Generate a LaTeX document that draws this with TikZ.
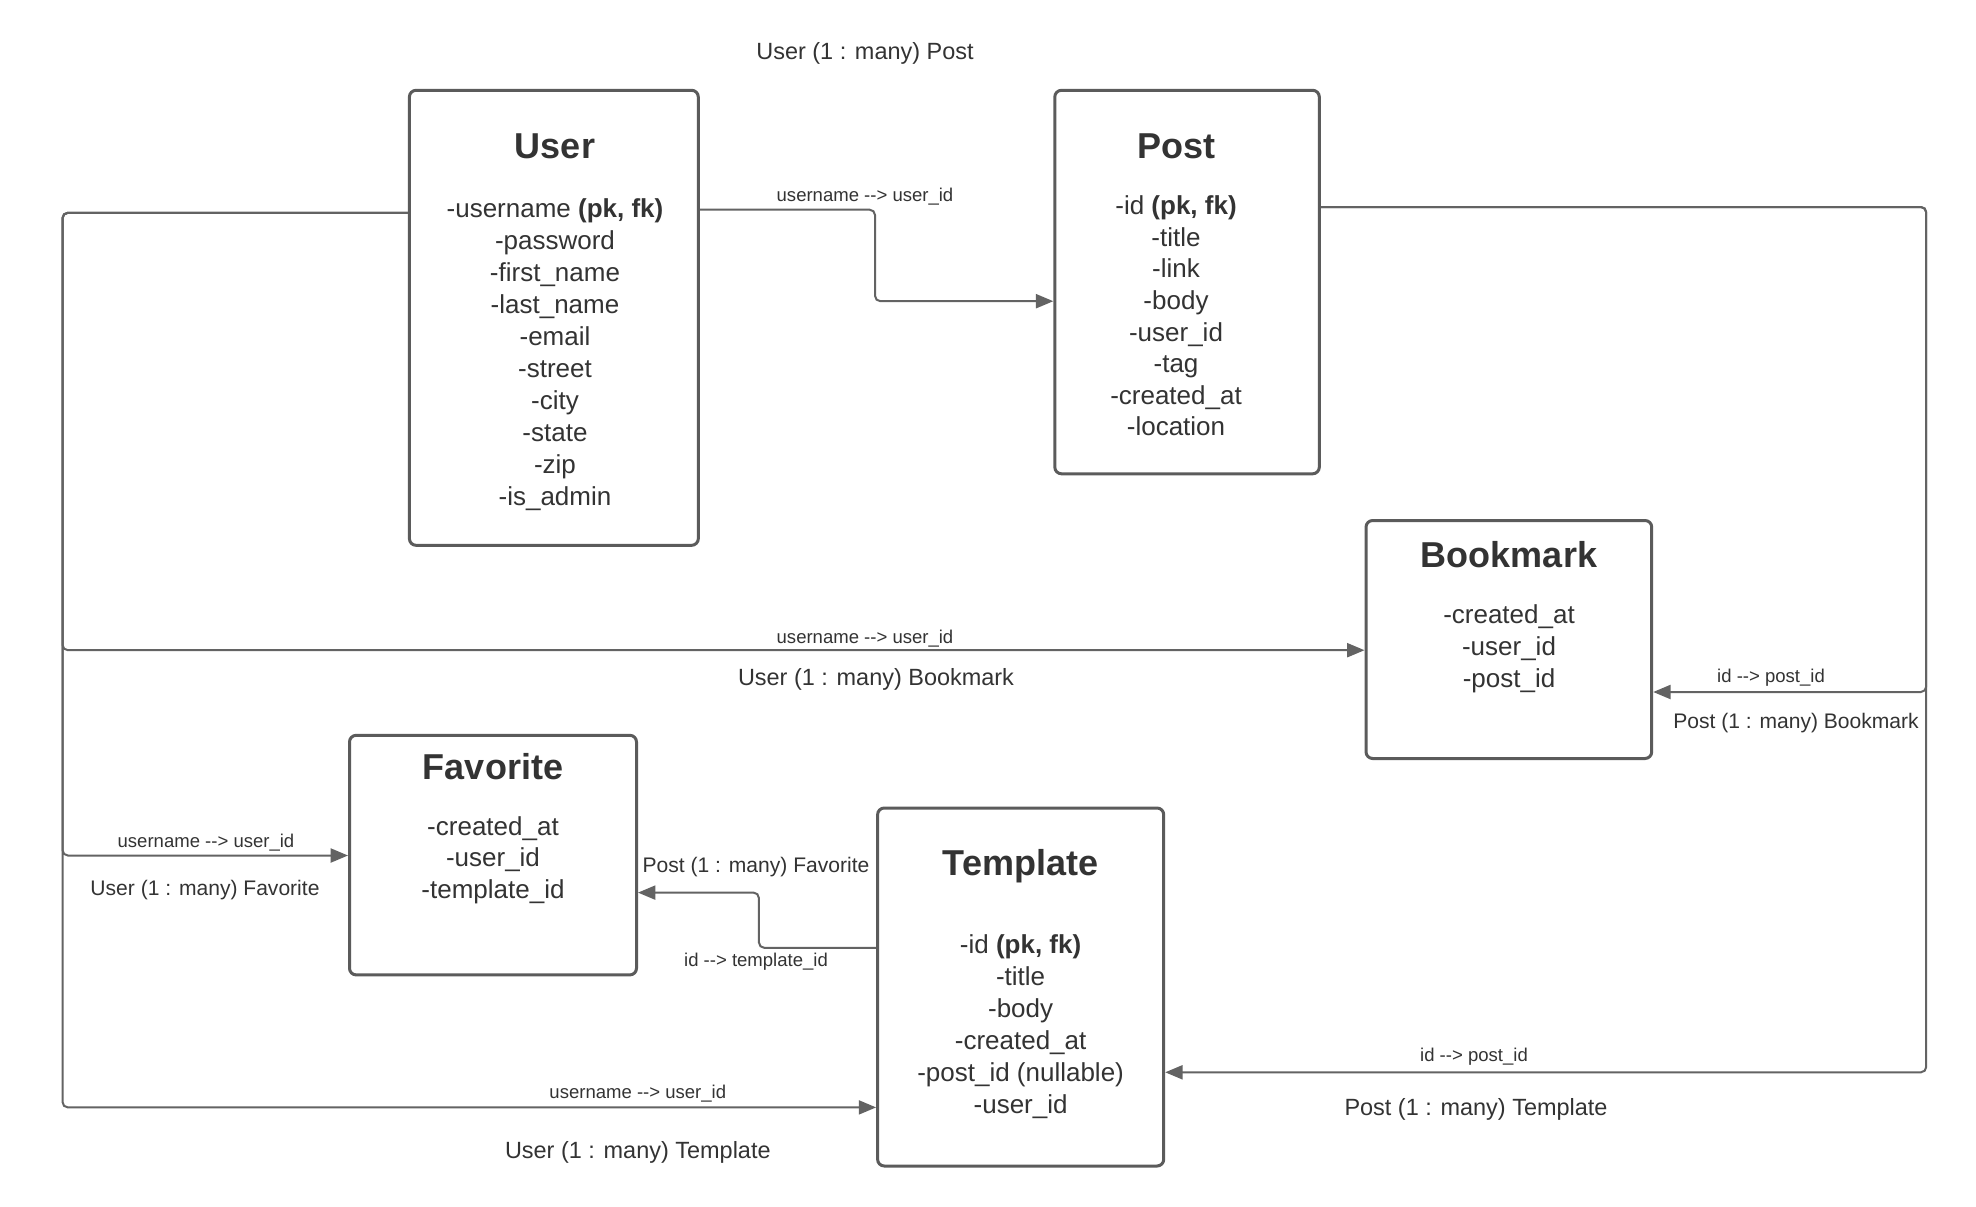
\documentclass[tikz,border=0pt]{standalone}
\usepackage{fontspec}
\setmainfont{Liberation Sans}
\usetikzlibrary{arrows.meta,fit}
\definecolor{boxc}{HTML}{5B5B5B}
\definecolor{linec}{HTML}{636363}
\definecolor{txtc}{HTML}{333333}
\newcommand\arr{-\kern0pt-\kern0pt>}
\newcommand\attrlist[5]{%
  \foreach \attrtext [count=\i] in {#5} {\node[attr] (#1-\i) at (#2,{#3+(\i-1)*#4}) {\attrtext};}}
\begin{document}
\begin{tikzpicture}[x=0.75pt,y=-0.75pt,
  entity/.style={draw=boxc,line width=2.25pt,rounded corners=5pt,inner sep=0pt},
  ttl/.style={anchor=base,text=txtc,font=\fontsize{27}{32}\selectfont\bfseries,inner sep=0pt},
  attr/.style={anchor=base,text=txtc,font=\fontsize{19.5}{24}\selectfont,inner sep=0pt},
  rel/.style={anchor=base,text=txtc,font=\fontsize{17.6}{21}\selectfont,inner sep=0pt},
  relsm/.style={anchor=base,text=txtc,font=\fontsize{15.8}{19}\selectfont,inner sep=0pt},
  fkl/.style={anchor=base,text=txtc,font=\fontsize{13.9}{17}\selectfont,inner sep=0pt},
  conn/.style={draw=linec,line width=1.5pt,rounded corners=4pt},
  arrowed/.style={conn,-{Triangle[length=13pt,width=10.5pt]}},
]
\fill[white] (0,0) rectangle (1976,1206);
\path[use as bounding box] (0,0) rectangle (1976,1206);

% entities
\node[entity,fit={(409.4,90.3) (698.3,545.3)}] (user) {};
\node[entity,fit={(1054.8,90.3) (1319.3,473.8)}] (post) {};
\node[entity,fit={(1366,520.5) (1651.7,758.5)}] (bookmark) {};
\node[entity,fit={(349.5,735.3) (636.5,974.9)}] (favorite) {};
\node[entity,fit={(877.6,808) (1163.7,1166)}] (template) {};

% titles
\node[ttl] (user-t) at (555,158) {User};
\node[ttl] (post-t) at (1176,158) {Post};
\node[ttl] (bookmark-t) at (1509,567.5) {Bookmark};
\node[ttl] (favorite-t) at (493,779.5) {Favorite};
\node[ttl] (template-t) at (1020.6,875) {Template};

% attributes
\attrlist{user}{555}{217.7}{32}{{-username \textbf{(pk, fk)}},-password,-first\_name,-last\_name,-email,-street,-city,-state,-zip,-is\_admin}
\attrlist{post}{1176}{214.7}{31.6}{{-id \textbf{(pk, fk)}},-title,-link,-body,-user\_id,-tag,-created\_at,-location}
\attrlist{bookmark}{1509}{623.5}{31.85}{-created\_at,-user\_id,-post\_id}
\attrlist{favorite}{493}{835.2}{31.7}{-created\_at,-user\_id,-template\_id}
\attrlist{template}{1020.6}{953.9}{31.9}{{-id \textbf{(pk, fk)}},-title,-body,-created\_at,-post\_id (nullable),-user\_id}

% connectors
\draw[arrowed] (user.east |- 0,209.7) -- (875,209.7) -- (875,301.2) -- (post.west |- 0,301.2);
\draw[arrowed] (user.west |- 0,212.8) -- (62.5,212.8) -- (62.5,650.2) -- (bookmark.west |- 0,650.2);
\draw[arrowed] (user.west |- 0,212.8) -- (62.5,212.8) -- (62.5,855.5) -- (favorite.west |- 0,855.5);
\draw[arrowed] (user.west |- 0,212.8) -- (62.5,212.8) -- (62.5,1107.4) -- (template.west |- 0,1107.4);
\draw[arrowed] (post.east |- 0,207) -- (1926.2,207) -- (1926.2,692) -- (bookmark.east |- 0,692);
\draw[arrowed] (post.east |- 0,207) -- (1926.2,207) -- (1926.2,1072.3) -- (template.east |- 0,1072.3);
\draw[arrowed] (template.west |- 0,947.8) -- (758.9,947.8) -- (758.9,892.6) -- (favorite.east |- 0,892.6);

% relation labels
\node[rel] (r1) at (865,59.7) {User (1 : many) Post};
\node[rel] (r2) at (876,685.3) {User (1 : many) Bookmark};
\node[relsm] (r3) at (1796,728.7) {Post (1 : many) Bookmark};
\node[relsm] (r4) at (205,895.7) {User (1 : many) Favorite};
\node[relsm] (r5) at (756,872.1) {Post (1 : many) Favorite};
\node[rel] (r6) at (637.8,1158.7) {User (1 : many) Template};
\node[rel] (r7) at (1476,1115) {Post (1 : many) Template};

% key labels
\node[fkl] (k1) at (865,201.5) {username \arr{} user\_id};
\node[fkl] (k2) at (865,643) {username \arr{} user\_id};
\node[fkl] (k3) at (1771,682.8) {id \arr{} post\_id};
\node[fkl] (k4) at (206,847) {username \arr{} user\_id};
\node[fkl] (k5) at (756,966.8) {id \arr{} template\_id};
\node[fkl] (k6) at (637.8,1098.3) {username \arr{} user\_id};
\node[fkl] (k7) at (1474,1061.5) {id \arr{} post\_id};
\end{tikzpicture}
\end{document}
